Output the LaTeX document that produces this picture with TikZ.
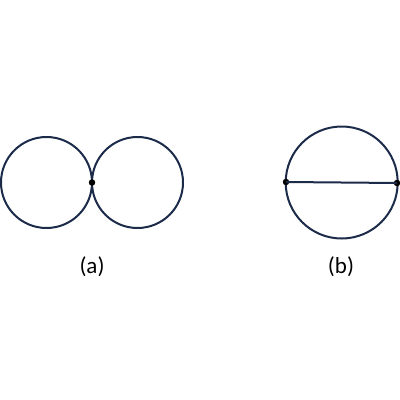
\documentclass[tikz,border=0pt]{standalone}
\usepackage{fontspec}
\setmainfont{Carlito}
\definecolor{navy}{HTML}{1C2B4A}
\begin{document}
\begin{tikzpicture}[x=1pt,y=-1pt,
  ring/.style={draw=navy,line width=2pt},
  dotpt/.style={circle,fill=black,inner sep=0pt,minimum size=6.5pt},
  lbl/.style={font=\fontsize{23}{27}\selectfont,text=black}]
\useasboundingbox (0,0) rectangle (400,400);
\draw[ring] (46.5,182.5) circle (45.5);
\draw[ring] (137.5,182.5) circle (45.5);
\node[dotpt] (t) at (92,182.5) {};
\draw[ring] (341.7,182.5) circle (56);
\node[dotpt] (l) at (286,182) {};
\node[dotpt] (r) at (397,183) {};
\draw[ring] (l.center) -- (r.center);
\node[lbl] (a) at (92,267) {(a)};
\node[lbl] (b) at (341,267) {(b)};
\end{tikzpicture}
\end{document}
